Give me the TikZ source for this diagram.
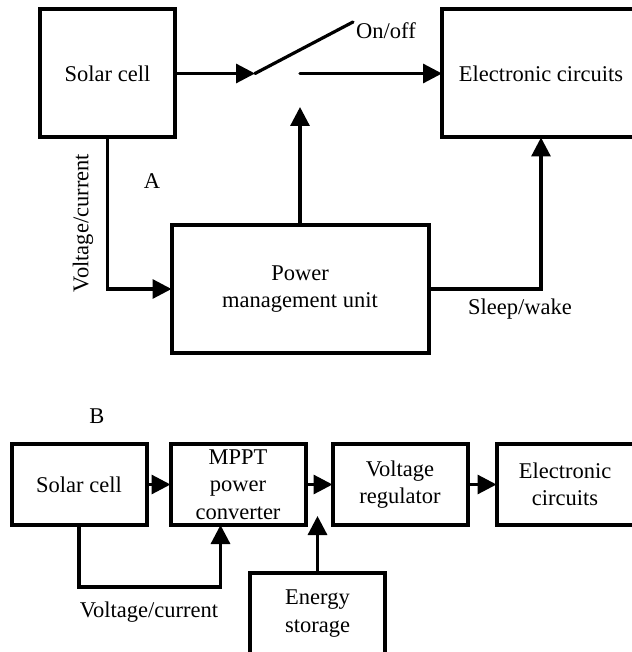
\documentclass[tikz,border=0pt]{standalone}
\usepackage{fontspec}
\setmainfont{Liberation Serif}
\usepackage{tikz}
\usetikzlibrary{arrows.meta, positioning}
\tikzset{
  blk/.style={
    rectangle, draw=black, line width=4pt,
    outer sep=0pt, inner sep=1pt, align=center,
    minimum width=135pt, minimum height=81pt
  },
  arr/.style={line width=3.2pt, -{Triangle[length=19pt,width=19pt]}},
  swl/.style={line width=3.2pt, line cap=round}
}
\begin{document}
\begin{tikzpicture}[x=1pt, y=-1pt, font=\fontsize{22.5}{27.5}\selectfont]
  \useasboundingbox (0,0) rectangle (631,652);

  % A: switched supply
  \node[blk, minimum height=128pt] (solarA) at (107.5,73.5) {Solar cell};
  \node[blk, minimum width=198pt, minimum height=128pt, right=267pt of solarA] (elecA) {Electronic circuits};
  \node[blk, minimum width=257pt, minimum height=128pt] (pmu) at (300,289) {Power\\management unit};

  \coordinate[right=80pt of solarA.east]  (swin);
  \coordinate[right=125pt of solarA.east] (swout);
  \coordinate (swtip) at (353,22);

  \draw[arr] (solarA.east) -- (swin);
  \draw[swl] (swin) -- (swtip);
  \draw[arr, line cap=round] (swout) -- (elecA.west);
  \draw[arr] (pmu.north) -- ++(0,-118);
  \draw[arr] (solarA.south) |- (pmu.west);
  \draw[arr] (pmu.east) -| (elecA.south);

  \node (onoff) at (386,31) {On/off};
  \node (lblA)  at (152,181) {A};
  \node[rotate=90] (vcA) at (83,223) {Voltage/current};
  \node (sleep) at (520,309) {Sleep/wake};

  % B: MPPT chain
  \node (lblB) at (97,416) {B};
  \node[blk] (solarB) at (79,484.5) {Solar cell};
  \node[blk, right=24pt of solarB] (mppt)  {MPPT\\power\\converter};
  \node[blk, right=27pt of mppt]   (vreg)  {Voltage\\regulator};
  \node[blk, minimum width=137pt, right=29pt of vreg] (elecB) {Electronic\\circuits};
  \node[blk] (store) at (317.5,613.5) {Energy\\storage};

  \draw[arr] (solarB.east) -- (mppt.west);
  \draw[arr] (mppt.east)   -- (vreg.west);
  \draw[arr] (vreg.east)   -- (elecB.west);
  \draw[arr] (solarB.south) -- ++(0,62) -| ([xshift=-17.5pt]mppt.south);
  \draw[arr] (store.north) -- ++(0,-57);

  \node (vcB) at (149,612) {Voltage/current};
\end{tikzpicture}
\end{document}
